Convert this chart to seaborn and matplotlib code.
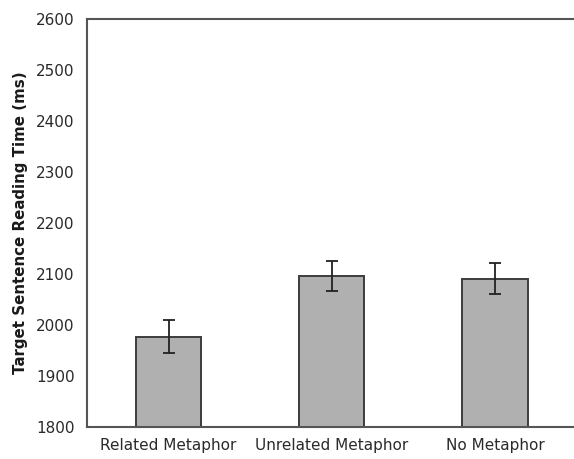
import matplotlib
matplotlib.use("Agg")
import matplotlib.pyplot as plt
import pandas as pd
import seaborn as sns

# values
conditions = ["Related Metaphor", "Unrelated Metaphor", "No Metaphor"]
reading_time = [1977, 2096, 2091]
std_err = [32, 30, 30]

df = pd.DataFrame({"condition": conditions, "time": reading_time, "se": std_err})

sns.set_style("white")
plt.rcParams["font.family"] = ["DejaVu Sans"]

fig = plt.figure(figsize=(5.74, 4.59), dpi=100)
# right edge of the frame runs past the image, like the original crop
ax = fig.add_axes([87 / 574, 1 - 427 / 459, 489.5 / 574, 408 / 459])

sns.barplot(data=df, x="condition", y="time", color="#b0b0b0", width=0.4,
            edgecolor="#3c3c3c", linewidth=1.4, saturation=1, ax=ax)
ax.errorbar(range(len(conditions)), df["time"], yerr=df["se"], fmt="none",
            ecolor="#222222", elinewidth=1.3, capsize=4, capthick=1.3)

ax.set_ylim(1800, 2600)
ax.set_xlim(-0.5, 2.5)
ax.set_yticks(range(1800, 2601, 100))
ax.set_xlabel("")
ax.set_ylabel("Target Sentence Reading Time (ms)", fontsize=10.8, fontweight="bold",
              color="#1a1a1a", labelpad=6)
ax.tick_params(axis="both", length=0, labelsize=11, colors="#2a2a2a", pad=8)
ax.tick_params(axis="y", pad=9)
for side in ["left", "bottom", "top"]:
    ax.spines[side].set_color("#555555")
    ax.spines[side].set_linewidth(1.5)
ax.spines["right"].set_visible(False)

fig.savefig("out.png", dpi=100)
